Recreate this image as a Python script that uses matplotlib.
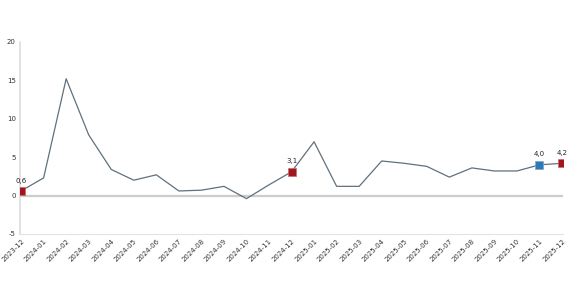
import numpy as np
import matplotlib.pyplot as plt

# monthly values
months = ['2023-12', '2024-01', '2024-02', '2024-03', '2024-04', '2024-05',
          '2024-06', '2024-07', '2024-08', '2024-09', '2024-10', '2024-11',
          '2024-12', '2025-01', '2025-02', '2025-03', '2025-04', '2025-05',
          '2025-06', '2025-07', '2025-08', '2025-09', '2025-10', '2025-11',
          '2025-12']
values = [0.6, 2.3, 15.2, 7.9, 3.4, 2.0, 2.7, 0.6, 0.7, 1.2, -0.4, 1.4,
          3.1, 7.0, 1.2, 1.2, 4.5, 4.2, 3.8, 2.4, 3.6, 3.2, 3.2, 4.0, 4.2]

red_idx = [0, 12, 24]
blue_idx = [23]
yticks = [-5, 0, 5, 10, 15, 20]

fig = plt.figure(figsize=(5.7, 2.85), dpi=100)
ax = fig.add_axes([0.035, 0.179, 0.953, 0.674])

x = np.arange(len(months))
ax.plot(x, values, color='#5f717c', lw=0.9, zorder=2)
ax.axhline(0, color='#cccccc', lw=1.6, zorder=1)

for i in red_idx:
    ax.plot(x[i], values[i], 's', ms=6, color='#a3151d', mec='#c86a6e', mew=0.5, zorder=3)
for i in blue_idx:
    ax.plot(x[i], values[i], 's', ms=6, color='#2e78b4', mec='#7aa7cc', mew=0.5, zorder=3)

for i in red_idx + blue_idx:
    lbl = f"{values[i]:.1f}".replace('.', ',')
    ax.annotate(lbl, (x[i], values[i]), textcoords='offset points', xytext=(0, 6),
                ha='center', fontsize=5, color='#222222')

ax.set_xlim(-0.05, 24.05)
ax.set_ylim(-5, 20)
ax.set_yticks(yticks)
ax.set_yticklabels([str(t) for t in yticks], fontsize=5, color='#333333')
ax.set_xticks(x)
ax.set_xticklabels(months, rotation=45, ha='right', rotation_mode='anchor', fontsize=5, color='#333333')
ax.tick_params(length=0, pad=3)

for s in ['top', 'right']:
    ax.spines[s].set_visible(False)
ax.spines['left'].set_color('#dddddd')
ax.spines['bottom'].set_color('#e4e4e4')
ax.spines['left'].set_linewidth(1.2)

plt.savefig('out.png', dpi=100)
